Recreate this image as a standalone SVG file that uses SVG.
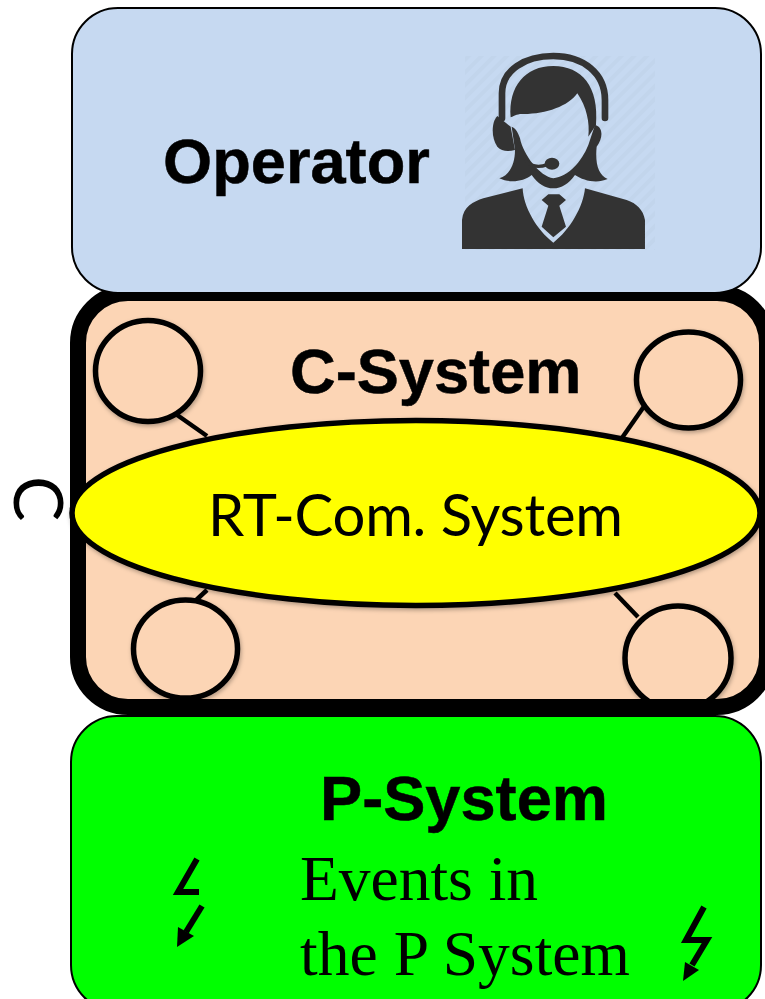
<svg xmlns="http://www.w3.org/2000/svg" width="765" height="999" viewBox="0 0 765 999">
<style>
.bold{font-family:"Liberation Sans",Arial,sans-serif;font-weight:bold;font-size:63.2px;fill:#000;stroke:#000;stroke-width:.5}
.serif{font-family:"Liberation Serif","Times New Roman",serif;font-size:63.5px;fill:#000}
.lato{font-family:Lato,"Open Sans",sans-serif;font-size:58px;fill:#000}
.sat{fill:#fcd5b5;stroke:#000;stroke-width:5.500;filter:url(#sh)}
.conn{stroke:#000;stroke-width:4.5;fill:none}
.bolt{stroke:#000;stroke-width:6;fill:none;stroke-linejoin:miter}
.ic{fill:#333;stroke:none}
.icl{fill:none;stroke:#333;stroke-linecap:round}
</style>
<defs>
<filter id="sh" x="-10%" y="-10%" width="120%" height="120%"><feDropShadow dx="1" dy="2" stdDeviation="2" flood-color="#000" flood-opacity="0.3"/></filter>
<pattern id="hatch" width="9" height="9" patternUnits="userSpaceOnUse" patternTransform="rotate(45)"><rect width="9" height="9" fill="#c6d9f1"/><rect width="4" height="9" fill="#c2d5ec"/></pattern>
</defs>
<rect width="765" height="999" fill="#fff"/>
<g id="c-system-bg"><rect x="78" y="293" width="689" height="414" rx="50" fill="#fcd5b5"/></g>
<g id="connectors">
<path class="conn" d="M170 410L207 436"/>
<path class="conn" d="M617 445L645 405"/>
<path class="conn" d="M207 590L193 603"/>
<path class="conn" d="M615 593L638 617"/>
</g>
<g id="sat-tl"><ellipse class="sat" cx="148" cy="371" rx="52.5" ry="50.5"/></g>
<g id="sat-tr"><ellipse class="sat" cx="688.500" cy="380" rx="52" ry="48"/></g>
<g id="sat-bl"><ellipse class="sat" cx="185.500" cy="649" rx="52" ry="49"/></g>
<g id="sat-br"><ellipse class="sat" cx="678" cy="658" rx="53" ry="52"/></g>
<g id="c-system"><rect x="78" y="293" width="689" height="414" rx="50" fill="none" stroke="#000" stroke-width="16"/>
<text class="bold" x="290" y="393">C-System</text></g>
<g id="operator">
<rect x="72" y="8" width="689" height="285" rx="46" fill="#c6d9f1" stroke="#000" stroke-width="2"/>
<text class="bold" x="163" y="183">Operator</text>
<rect x="465" y="56" width="190" height="194" fill="url(#hatch)"/>
<g transform="translate(440 30) scale(.3333)">
<path class="icl" stroke-width="20" d="M186 265V190C186 120 255 78 340 78C430 78 495 130 495 210V264"/>
<path class="ic" d="M212 262C205 170 255 108 340 108C425 108 478 170 468 285L445 320C450 280 440 230 412 190C385 230 310 255 240 252C225 255 218 260 212 262Z"/>
<path class="ic" d="M172 258C155 275 152 320 172 350C185 365 205 365 225 360L212 290Z"/>
<path class="ic" d="M215 290C228 295 235 310 240 325C250 375 300 440 340 445C385 440 425 395 445 345L465 285C490 290 490 325 470 350C465 400 475 435 503 447C470 462 430 452 405 435C385 462 365 475 340 475C315 475 295 462 275 435C250 455 210 460 178 445C210 435 225 400 225 360Z"/>
<path class="icl" stroke-width="10" d="M258 392C275 412 300 412 322 404"/>
<ellipse class="ic" cx="336" cy="401" rx="22" ry="18"/>
<path class="ic" d="M66 657V570C70 530 100 515 130 505L248 475C250 530 290 600 340 638C390 600 430 530 435 475L560 510C590 520 610 540 615 570V657Z"/>
<path class="ic" d="M305 510L325 493H358L378 510L358 527L378 590L340 622L305 590L325 527Z"/>
</g>
</g>
<g id="rt-com">
<ellipse cx="416" cy="513" rx="344" ry="92.500" fill="#ff0" stroke="#000" stroke-width="5.500" filter="url(#sh)"/>
<text class="lato" x="208" y="536" textLength="415">RT-Com. System</text>
</g>
<g id="c-label"><text class="lato" style="font-size:68px" transform="translate(14 476) rotate(90)">C</text></g>
<g id="p-system">
<rect x="71" y="716" width="690" height="295" rx="46" fill="#0f0" stroke="#000" stroke-width="2"/>
<text class="bold" x="320" y="820">P-System</text>
<text class="serif" x="300" y="900">Events in</text>
<text class="serif" x="300" y="975" textLength="330">the P System</text>
<path class="bolt" d="M197 859L178 892H199"/>
<path class="bolt" d="M202 906L186 932"/>
<path d="M178 927L194 936L177 947Z"/>
<path class="bolt" d="M704 907L686 940H707L692 965"/>
<path d="M685 962L699 970L683 981Z"/>
</g>
</svg>
